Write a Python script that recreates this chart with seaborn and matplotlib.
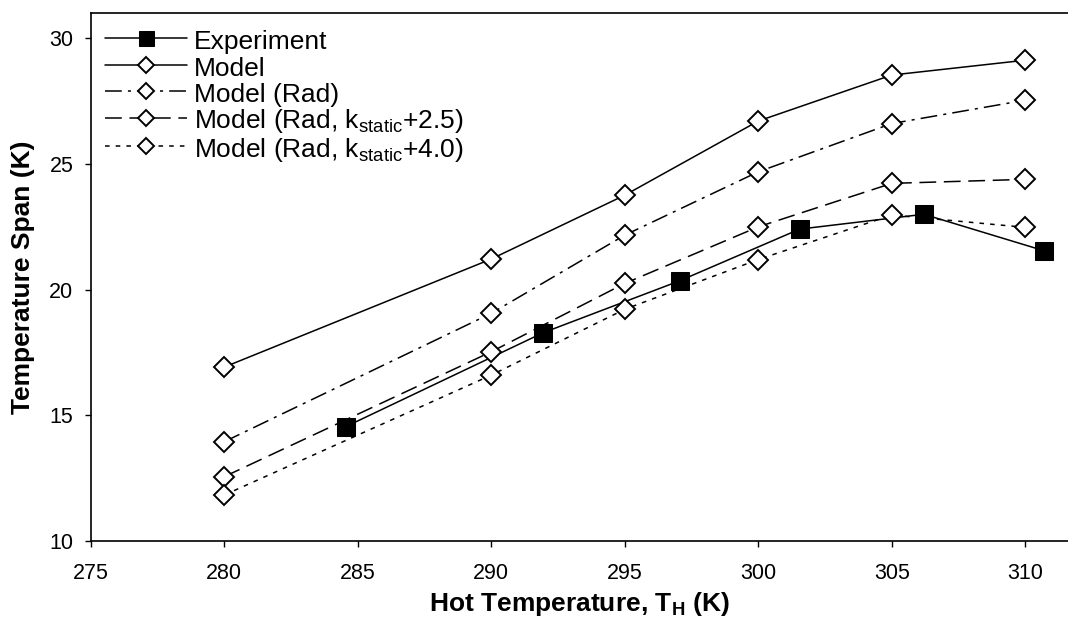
import matplotlib
matplotlib.use("Agg")
import matplotlib.pyplot as plt
import seaborn as sns
import pandas as pd

# ---- data ----
exp_x = [284.55, 291.95, 297.05, 301.55, 306.2, 310.7]
exp_y = [14.55, 18.29, 20.35, 22.41, 23.0, 21.55]

model_x = [280, 290, 295, 300, 305, 310]
model_y = [16.92, 21.22, 23.76, 26.71, 28.54, 29.13]
rad_y = [13.95, 19.06, 22.17, 24.69, 26.61, 27.54]
rad25_y = [12.56, 17.53, 20.25, 22.50, 24.23, 24.39]
rad40_y = [11.83, 16.60, 19.22, 21.20, 22.97, 22.48]

labels = ["Experiment", "Model", "Model (Rad)",
          r"Model (Rad, k$_{\mathrm{static}}$+2.5)",
          r"Model (Rad, k$_{\mathrm{static}}$+4.0)"]
x_ticks = [275, 280, 285, 290, 295, 300, 305, 310]
y_ticks = [10, 15, 20, 25, 30]

sns.set_theme(style="ticks")
plt.rcParams["font.family"] = ["Liberation Sans", "DejaVu Sans"]
plt.rcParams["mathtext.fontset"] = "custom"
plt.rcParams["mathtext.rm"] = "Liberation Sans"
plt.rcParams["mathtext.bf"] = "Liberation Sans:bold"
plt.rcParams["mathtext.it"] = "Liberation Sans:italic"
plt.rcParams["text.color"] = "black"
plt.rcParams["axes.labelcolor"] = "black"

fig = plt.figure(figsize=(10.68, 6.18), dpi=100)
ax = fig.add_axes([0.085, 0.1246, 0.915, 0.854])

lw = 1.1
sns.lineplot(x=exp_x, y=exp_y, ax=ax, color="black", lw=lw, marker="s",
             markersize=13.5, markerfacecolor="black", markeredgecolor="black",
             label=labels[0])
diamond = dict(marker="D", markersize=10, markerfacecolor="white",
               markeredgecolor="black", markeredgewidth=1.4, color="black", lw=lw)
sns.lineplot(x=model_x, y=model_y, ax=ax, label=labels[1], **diamond)
sns.lineplot(x=model_x, y=rad_y, ax=ax, label=labels[2],
             linestyle=(0, (11, 4, 2, 4)), **diamond)
sns.lineplot(x=model_x, y=rad25_y, ax=ax, label=labels[3],
             linestyle=(0, (11, 5)), **diamond)
sns.lineplot(x=model_x, y=rad40_y, ax=ax, label=labels[4],
             linestyle=(0, (3, 4)), **diamond)

ax.set_xlim(275, 311.6)
ax.set_ylim(10, 31)
ax.set_xticks(x_ticks)
ax.set_yticks(y_ticks)
ax.tick_params(axis="both", labelsize=15.5, direction="out", length=4.5, width=1,
               colors="black")
ax.tick_params(axis="x", pad=11)
ax.tick_params(axis="y", pad=8)
for side in ["left", "bottom", "top"]:
    ax.spines[side].set_color("black")
    ax.spines[side].set_linewidth(1.2)
ax.spines["right"].set_visible(False)

ax.set_xlabel(r"Hot Temperature, T$_{\mathbf{H}}$ (K)", fontsize=19,
              fontweight="bold", labelpad=5, color="black")
ax.set_ylabel("Temperature Span (K)", fontsize=19, fontweight="bold",
              labelpad=10, color="black")

leg = ax.legend(loc="upper left", bbox_to_anchor=(0.0, 1.0), frameon=False,
                fontsize=19, handlelength=3.1, handletextpad=0.27,
                labelspacing=0.0, handleheight=1.07, borderaxespad=0.3,
                borderpad=0.25, markerscale=0.8)
for t in leg.get_texts():
    t.set_color("black")

fig.savefig("out.png", dpi=100)
